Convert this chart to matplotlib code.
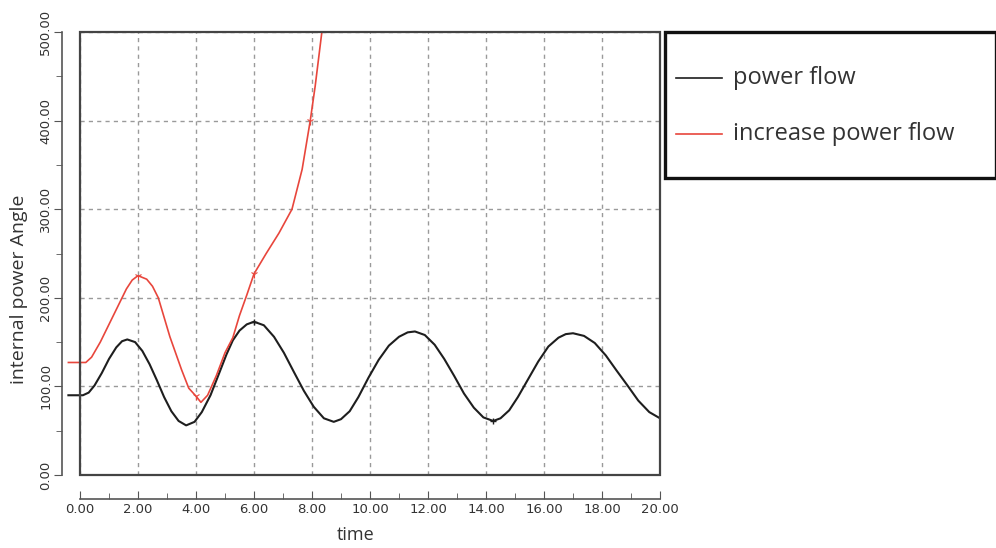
import numpy as np
import matplotlib.pyplot as plt
from matplotlib.patches import Rectangle
from matplotlib.lines import Line2D
from matplotlib.ticker import MultipleLocator, FormatStrFormatter

# values
t_base = [-0.4, 0.1, 0.3, 0.5, 0.75, 1.0, 1.25, 1.45, 1.63, 1.9, 2.15, 2.4, 2.65, 2.9,
          3.15, 3.4, 3.66, 3.95, 4.2, 4.5, 4.8, 5.05, 5.27, 5.5, 5.75, 6.0,
          6.34, 6.69, 7.03, 7.38, 7.72, 8.06, 8.41, 8.75,
          9.0, 9.3, 9.6, 9.95, 10.3, 10.65, 11.0, 11.3, 11.55,
          11.89, 12.23, 12.56, 12.9, 13.24, 13.58, 13.91, 14.25,
          14.5, 14.8, 15.1, 15.45, 15.8, 16.15, 16.5, 16.75, 17.0,
          17.38, 17.75, 18.13, 18.5, 18.88, 19.25, 19.63, 20.0]
power_flow = [90, 90, 93, 101, 115, 131, 144, 151, 153, 150, 140, 125, 107, 88,
              72, 61, 56, 60, 71, 90, 115, 136, 152, 163, 170, 173,
              169, 156, 138, 116, 95, 77, 64, 60,
              63, 72, 88, 110, 130, 146, 156, 161, 162,
              158, 147, 131, 112, 92, 76, 65, 61,
              64, 73, 88, 108, 128, 145, 155, 159, 160,
              157, 149, 135, 118, 101, 84, 71, 64]

t_inc = [-0.4, 0.2, 0.4, 0.7, 1.0, 1.3, 1.6, 1.8, 2.0, 2.3, 2.5, 2.7, 3.1, 3.5,
         3.75, 4.0, 4.17, 4.4, 4.7, 5.0, 5.27, 5.5, 5.75, 6.0, 6.42, 6.86,
         7.31, 7.66, 7.94, 8.11, 8.34, 8.45]
increase_flow = [127, 127, 133, 150, 170, 190, 210, 220, 225, 221, 213, 200, 156, 119,
                 98, 89, 82, 90, 112, 138, 155, 180, 203, 227, 250, 273,
                 300, 345, 400, 439, 500, 530]

fig = plt.figure(figsize=(9.96, 5.48), dpi=100)
ax = fig.add_axes([80 / 996, 1 - 475 / 548, 580 / 996, 443 / 548])

black = "#1e1e1e"
red = "#e8463c"
clip = Rectangle((-0.05, 0), 1.05, 1, transform=ax.transAxes, visible=False)
ax.add_patch(clip)

l1, = ax.plot(t_base, power_flow, color=black, lw=1.5, zorder=4)
l2, = ax.plot(t_inc, increase_flow, color=red, lw=1.2, zorder=5)
l1.set_clip_path(clip)
l2.set_clip_path(clip)

# little point markers on a few points
tb = np.array(t_base)
pb = np.array(power_flow)
sel = np.isin(tb, [2.0, 6.0, 14.25])
ax.plot(tb[sel], pb[sel], "+", color=black, ms=5, mew=1, zorder=4)
ti = np.array(t_inc)
pi = np.array(increase_flow)
sel = np.isin(ti, [2.0, 4.0, 6.0, 7.94])
ax.plot(ti[sel], pi[sel], "1", color=red, ms=6, mew=0.8, zorder=5)

ax.set_xlim(0, 20)
ax.set_ylim(0, 500)

# plot frame
for s in ax.spines.values():
    s.set_visible(False)
ax.add_patch(Rectangle((0, 0), 1, 1, transform=ax.transAxes, fill=False,
                       edgecolor="#444444", lw=1.6, zorder=6, clip_on=False))

# detached rulers
ax.spines['left'].set_visible(True)
ax.spines['bottom'].set_visible(True)
ax.spines['left'].set_position(('outward', 13))
ax.spines['bottom'].set_position(('outward', 17))
for side in ['left', 'bottom']:
    ax.spines[side].set_color("#555555")
    ax.spines[side].set_linewidth(1.2)

ax.xaxis.set_major_locator(MultipleLocator(2))
ax.xaxis.set_minor_locator(MultipleLocator(1))
ax.yaxis.set_major_locator(MultipleLocator(100))
ax.yaxis.set_minor_locator(MultipleLocator(50))
ax.xaxis.set_major_formatter(FormatStrFormatter("%.2f"))
ax.yaxis.set_major_formatter(FormatStrFormatter("%.2f"))
ax.tick_params(axis='x', which='both', direction='in', colors="#555555", labelcolor="#333333",
               labelsize=9.5, pad=3)
ax.tick_params(axis='x', which='major', length=6)
ax.tick_params(axis='x', which='minor', length=4)
ax.tick_params(axis='y', which='both', direction='out', colors="#555555", labelcolor="#333333",
               labelsize=9.5, pad=1)
ax.tick_params(axis='y', which='major', length=6)
ax.tick_params(axis='y', which='minor', length=4)
for lab in ax.get_yticklabels():
    lab.set_rotation(90)
    lab.set_va('center')

ax.grid(True, which='major', color="#9a9a9a", linestyle=(0, (3, 3)), lw=1.0)

ax.set_xlabel("time", fontsize=13, family="Open Sans", color="#333333")
ax.set_ylabel("internal power Angle", fontsize=14, family="Open Sans", color="#333333")
ax.xaxis.set_label_coords(0.475, -0.115)
ax.yaxis.set_label_coords(-0.09, 0.42)

# legend box on the right
fig.add_artist(Rectangle((665 / 996, 1 - 178 / 548), 331 / 996, 146 / 548,
                         transform=fig.transFigure, fill=False, edgecolor="#111111", lw=2.4))
labels = ["power flow", "increase power flow"]
for i, (lab, col) in enumerate(zip(labels, [black, red])):
    yy = 1 - (78 + 56 * i) / 548
    fig.add_artist(Line2D([676 / 996, 722 / 996], [yy, yy], transform=fig.transFigure,
                          color=col, lw=1.2))
    fig.text(733 / 996, yy, lab, fontsize=17, family="Open Sans", color="#333333", va="center")

fig.savefig("out.png", dpi=100)
